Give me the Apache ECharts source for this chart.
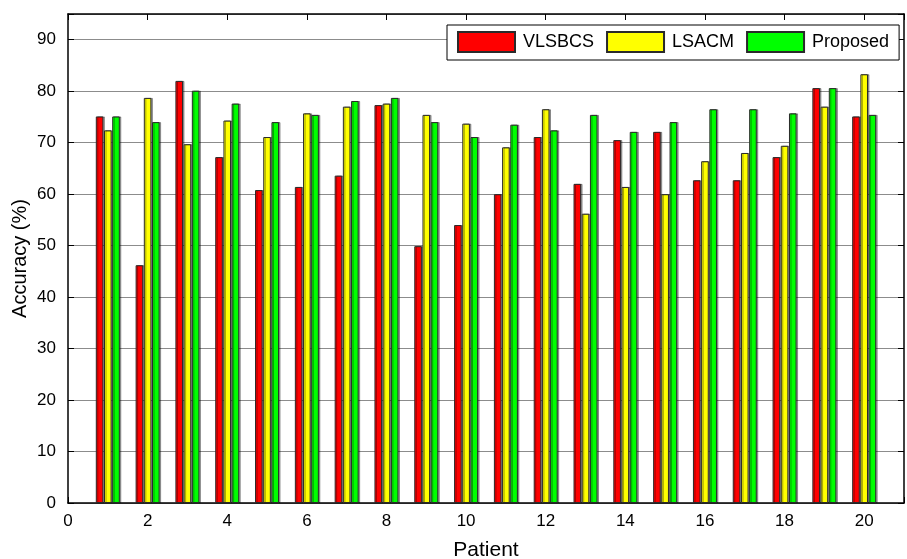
<!DOCTYPE html>
<html>
<head>
<meta charset="utf-8">
<script src="https://cdn.jsdelivr.net/npm/echarts@6/dist/echarts.min.js"></script>
<style>
html,body{margin:0;padding:0;background:#fff;}
#c{width:907px;height:559px;}
</style>
</head>
<body>
<div id="c"></div>
<script>
const patients = [1,2,3,4,5,6,7,8,9,10,11,12,13,14,15,16,17,18,19,20];
const vlsbcs   = [75.1,46.2,82.0,67.2,60.8,61.4,63.6,77.3,49.9,54.0,60.0,71.1,62.0,70.5,72.1,62.7,62.7,67.2,80.6,75.1];
const lsacm    = [72.4,78.7,69.7,74.3,71.1,75.7,77.0,77.6,75.4,73.7,69.1,76.5,56.2,61.4,60.0,66.4,68.0,69.4,77.0,83.3];
const proposed = [75.1,74.0,80.1,77.6,74.0,75.4,78.1,78.7,74.0,71.1,73.5,72.4,75.4,72.1,74.0,76.5,76.5,75.7,80.6,75.4];
const seriesNames = ['VLSBCS','LSACM','Proposed'];
const seriesColors = ['#ff0000','#ffff00','#00ff00'];

const FONT = 'Liberation Sans, Arial, sans-serif';
const chart = echarts.init(document.getElementById('c'));

function mk(name, vals, color){
  return {
    name: name, type: 'bar',
    data: patients.map((p,i)=>[p, vals[i]]),
    barWidth: 7.6, barGap: '8%',
    itemStyle: {color: color, borderColor: '#2a2a2a', borderWidth: 1,
      shadowColor: 'rgba(0,0,0,0.35)', shadowOffsetX: 1.5, shadowOffsetY: 0, shadowBlur: 0},
    emphasis: {disabled: true}, animation: false
  };
}

const tickStyle = {show: true, inside: true, length: 6, lineStyle: {color: '#000', width: 1}};
chart.setOption({
  animation: false,
  backgroundColor: '#fff',
  grid: {left: 68, right: 3, top: 14, bottom: 56, containLabel: false, outerBoundsMode: 'none'},
  legend: {
    data: seriesNames, left: 447, top: 25, orient: 'horizontal',
    padding: [6, 10, 7, 10], itemGap: 12, itemWidth: 57, itemHeight: 20,
    backgroundColor: '#fff', borderColor: '#000', borderWidth: 1, borderRadius: 0,
    icon: 'rect',
    textStyle: {fontFamily: FONT, fontSize: 18, color: '#000', padding: [0,0,0,3]}
  },
  xAxis: [
    {type: 'value', min: 0, max: 21, interval: 2, position: 'bottom',
     axisLine: {show: true, onZero: false, lineStyle: {color: '#000', width: 1.5}},
     axisTick: tickStyle,
     axisLabel: {fontFamily: FONT, fontSize: 17, color: '#000', margin: 10,
       formatter: v => (v % 2 === 0 ? String(v) : '')},
     splitLine: {show: false},
     name: 'Patient', nameLocation: 'middle', nameGap: 37, nameMoveOverlap: false,
     nameTextStyle: {fontFamily: FONT, fontSize: 21, color: '#000'}},
    {type: 'value', min: 0, max: 21, interval: 2, position: 'top',
     axisLine: {show: true, onZero: false, lineStyle: {color: '#000', width: 1.5}},
     axisTick: tickStyle, axisLabel: {show: false}, splitLine: {show: false}}
  ],
  yAxis: [
    {type: 'value', min: 0, max: 95, interval: 10, position: 'left',
     axisLine: {show: true, onZero: false, lineStyle: {color: '#000', width: 1.5}},
     axisTick: tickStyle,
     axisLabel: {fontFamily: FONT, fontSize: 17, color: '#000', margin: 12,
       formatter: v => (v % 10 === 0 ? String(v) : '')},
     splitLine: {show: true, lineStyle: {color: '#8c8c8c', width: 1}},
     name: 'Accuracy (%)', nameLocation: 'middle', nameGap: 38, nameRotate: 90, nameMoveOverlap: false,
     nameTextStyle: {fontFamily: FONT, fontSize: 20, color: '#000'}},
    {type: 'value', min: 0, max: 95, interval: 10, position: 'right',
     axisLine: {show: true, onZero: false, lineStyle: {color: '#000', width: 1.5}},
     axisTick: tickStyle, axisLabel: {show: false}, splitLine: {show: false}}
  ],
  series: [
    mk(seriesNames[0], vlsbcs, seriesColors[0]),
    mk(seriesNames[1], lsacm, seriesColors[1]),
    mk(seriesNames[2], proposed, seriesColors[2])
  ]
});
</script>
</body>
</html>
